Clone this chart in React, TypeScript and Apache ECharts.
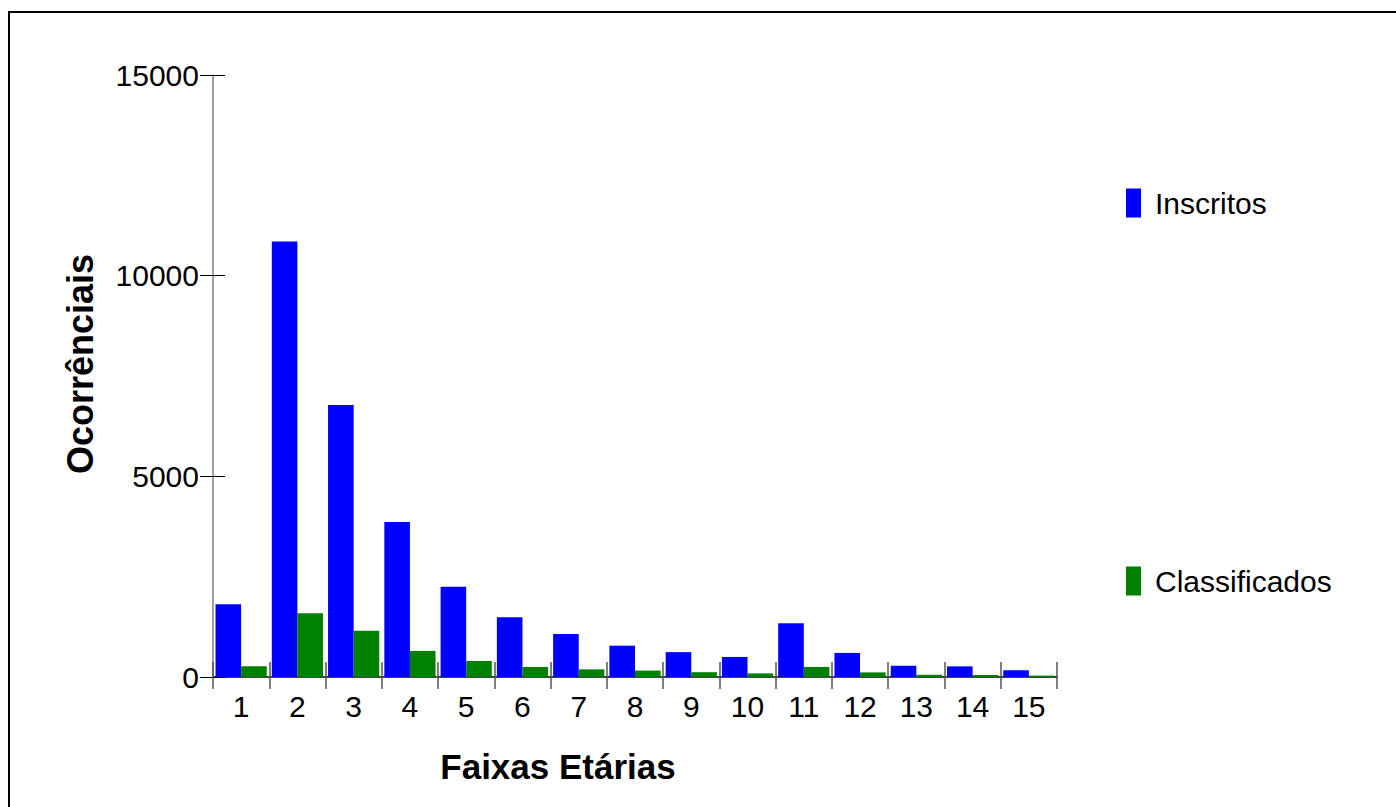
import React, { useEffect, useRef } from "react";
import * as echarts from "echarts";

const categories = ["1", "2", "3", "4", "5", "6", "7", "8", "9", "10", "11", "12", "13", "14", "15"];
const inscritos = [1810, 10850, 6780, 3860, 2250, 1490, 1070, 780, 620, 500, 1340, 600, 280, 265, 170];
const classificados = [270, 1590, 1150, 650, 400, 250, 190, 160, 120, 90, 250, 115, 55, 50, 35];
const yTicks = { min: 0, max: 15000, interval: 5000 };

const FONT = "'Liberation Sans', Arial, sans-serif";

export default function App() {
  const ref = useRef<HTMLDivElement>(null);
  useEffect(() => {
    if (!ref.current) return;
    const chart = echarts.init(ref.current, null, { renderer: "svg" });
    const grid = { left: 213, right: 339, top: 75, bottom: 130 };
    chart.setOption({
      animation: false,
      backgroundColor: "#ffffff",
      textStyle: { fontFamily: FONT },
      grid,
      legend: {
        orient: "vertical",
        left: 1126,
        top: 188,
        padding: 0,
        itemWidth: 15,
        itemHeight: 29,
        itemGap: 348,
        icon: "rect",
        textStyle: { fontFamily: FONT, fontSize: 30, color: "#000", padding: [0, 0, 0, 9] },
        data: ["Inscritos", "Classificados"],
      },
      xAxis: [
        {
          type: "category",
          data: categories,
          boundaryGap: true,
          axisLine: { lineStyle: { color: "#000", width: 1.5 } },
          axisTick: { show: true, length: 12, lineStyle: { color: "#555", width: 1.5 } },
          axisLabel: { fontFamily: FONT, fontSize: 30, color: "#000", margin: 14 },
          splitLine: { show: false },
        },
        {
          type: "category",
          data: categories,
          position: "bottom",
          boundaryGap: true,
          axisLine: { show: false },
          axisTick: { show: true, inside: true, length: 15, lineStyle: { color: "#555", width: 1.5 } },
          axisLabel: { show: false },
          splitLine: { show: false },
        },
      ],
      yAxis: [
        {
          type: "value",
          min: yTicks.min,
          max: yTicks.max,
          interval: yTicks.interval,
          axisLine: { show: true, lineStyle: { color: "#808080", width: 1.5 } },
          axisTick: { show: true, length: 13, lineStyle: { color: "#000", width: 1 } },
          axisLabel: {
            fontFamily: FONT,
            fontSize: 30,
            color: "#000",
            margin: 14,
            formatter: (v: number) => String(v),
          },
          splitLine: { show: false },
        },
        {
          type: "value",
          min: yTicks.min,
          max: yTicks.max,
          interval: yTicks.interval,
          position: "left",
          axisLine: { show: false },
          axisTick: { show: true, inside: true, length: 12, lineStyle: { color: "#000", width: 1 } },
          axisLabel: { show: false },
          splitLine: { show: false },
        },
      ],
      series: [
        {
          name: "Inscritos",
          type: "bar",
          data: inscritos,
          itemStyle: { color: "#0000ff" },
          barGap: "0%",
          barCategoryGap: "9%",
        },
        {
          name: "Classificados",
          type: "bar",
          data: classificados,
          itemStyle: { color: "#008000" },
          barGap: "0%",
          barCategoryGap: "9%",
        },
      ],
      graphic: [
        {
          type: "rect",
          shape: { x: 9, y: 12, width: 1500, height: 900 },
          style: { fill: "none", stroke: "#000", lineWidth: 2 },
          silent: true,
        },
        {
          type: "text",
          x: 80,
          y: 364,
          rotation: Math.PI / 2,
          style: {
            text: "Ocorrênciais",
            fontFamily: FONT,
            fontSize: 36,
            fontWeight: "bold",
            fill: "#000",
            align: "center",
            verticalAlign: "middle",
          },
        },
        {
          type: "text",
          x: 558,
          y: 766,
          style: {
            text: "Faixas Etárias",
            fontFamily: FONT,
            fontSize: 35,
            fontWeight: "bold",
            fill: "#000",
            align: "center",
            verticalAlign: "middle",
          },
        },
      ],
    });
    return () => chart.dispose();
  }, []);
  return (
    <div
      ref={ref}
      style={{ position: "fixed", left: 0, top: 0, width: 1396, height: 807, background: "#fff" }}
    />
  );
}
